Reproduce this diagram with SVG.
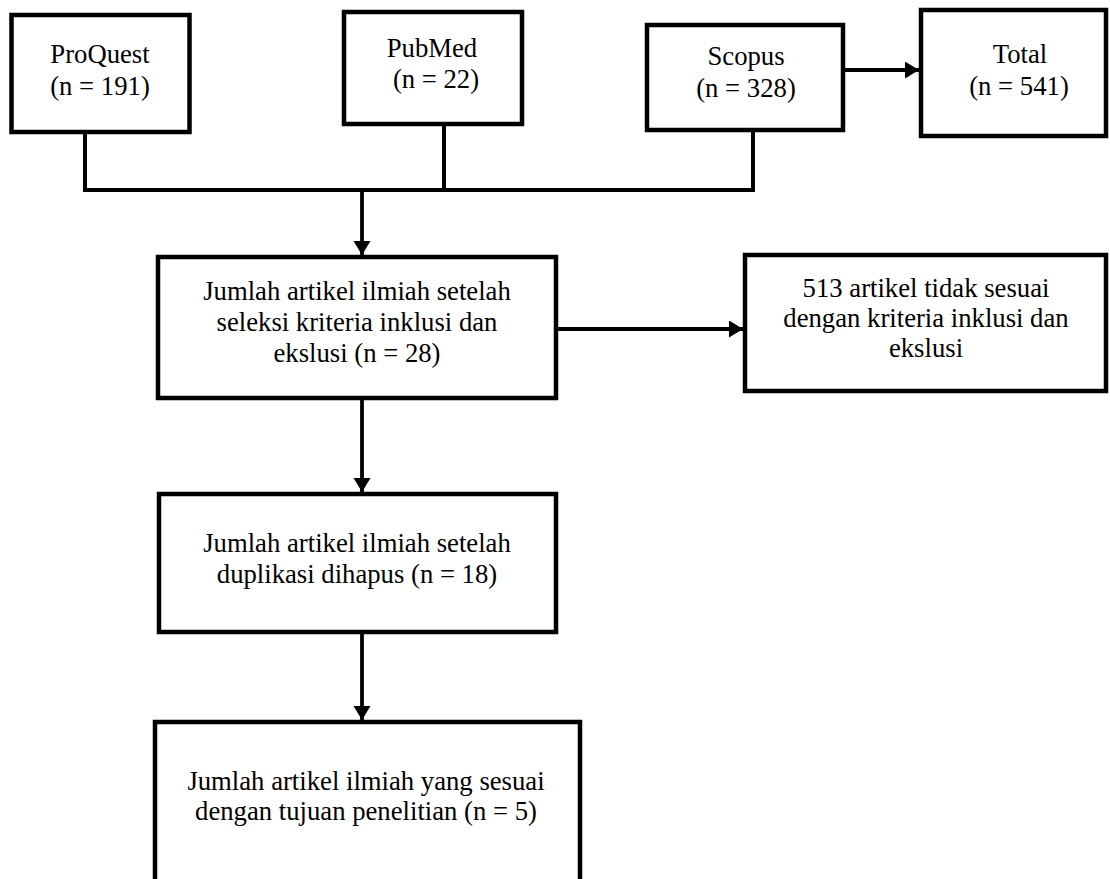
<svg xmlns="http://www.w3.org/2000/svg" width="1110" height="879" viewBox="0 0 1110 879">
<style>
.box{fill:#fff;stroke:#000;stroke-width:4.5}
.t{font-family:"Liberation Serif","Times New Roman",serif;font-size:26.7px;fill:#000;text-anchor:middle}
.ln{fill:none;stroke:#000;stroke-width:4}
.ar{fill:none;stroke:#000;stroke-width:3.8;marker-end:url(#ah)}
</style>
<defs>
<marker id="ah" markerUnits="userSpaceOnUse" markerWidth="16" markerHeight="18" refX="14" refY="8.5" orient="auto">
<path d="M0,0 L14,8.5 L0,17 z" fill="#000"/>
</marker>
</defs>
<rect width="1110" height="879" fill="#fff"/>
<g id="connectors">
<polyline class="ln" points="85,134 85,190 753,190"/>
<line class="ln" x1="444" y1="126" x2="444" y2="190"/>
<line class="ln" x1="753" y1="132" x2="753" y2="192"/>
<line class="ar" x1="362" y1="190" x2="362" y2="255"/>
<line class="ar" x1="845" y1="70" x2="919" y2="70"/>
<line class="ar" x1="558" y1="329" x2="743" y2="329"/>
<line class="ar" x1="362" y1="400" x2="362" y2="492"/>
<line class="ar" x1="362" y1="634" x2="362" y2="720"/>
</g>
<g id="proquest">
<rect class="box" x="11.5" y="15" width="178" height="117"/>
<text class="t" x="100" y="63">ProQuest</text>
<text class="t" x="100" y="95">(n = 191)</text>
</g>
<g id="pubmed">
<rect class="box" x="344" y="12" width="178" height="112"/>
<text class="t" x="432" y="57">PubMed</text>
<text class="t" x="436" y="88">(n = 22)</text>
</g>
<g id="scopus">
<rect class="box" x="647" y="25" width="196" height="105"/>
<text class="t" x="746" y="65">Scopus</text>
<text class="t" x="746" y="97">(n = 328)</text>
</g>
<g id="total">
<rect class="box" x="921" y="10" width="185" height="126"/>
<text class="t" x="1020" y="63">Total</text>
<text class="t" x="1019" y="95">(n = 541)</text>
</g>
<g id="seleksi">
<rect class="box" x="158" y="257" width="398" height="141"/>
<text class="t" x="357" y="300">Jumlah artikel ilmiah setelah</text>
<text class="t" x="357" y="331">seleksi kriteria inklusi dan</text>
<text class="t" x="357" y="362">ekslusi (n = 28)</text>
</g>
<g id="excluded">
<rect class="box" x="745" y="255" width="361" height="136"/>
<text class="t" x="926" y="297">513 artikel tidak sesuai</text>
<text class="t" x="926" y="327">dengan kriteria inklusi dan</text>
<text class="t" x="926" y="357">ekslusi</text>
</g>
<g id="duplikasi">
<rect class="box" x="159" y="494" width="397" height="138"/>
<text class="t" x="357" y="552">Jumlah artikel ilmiah setelah</text>
<text class="t" x="357" y="583">duplikasi dihapus (n = 18)</text>
</g>
<g id="final">
<rect class="box" x="155" y="722" width="425" height="170"/>
<text class="t" x="366" y="790">Jumlah artikel ilmiah yang sesuai</text>
<text class="t" x="366" y="820">dengan tujuan penelitian (n = 5)</text>
</g>
</svg>
